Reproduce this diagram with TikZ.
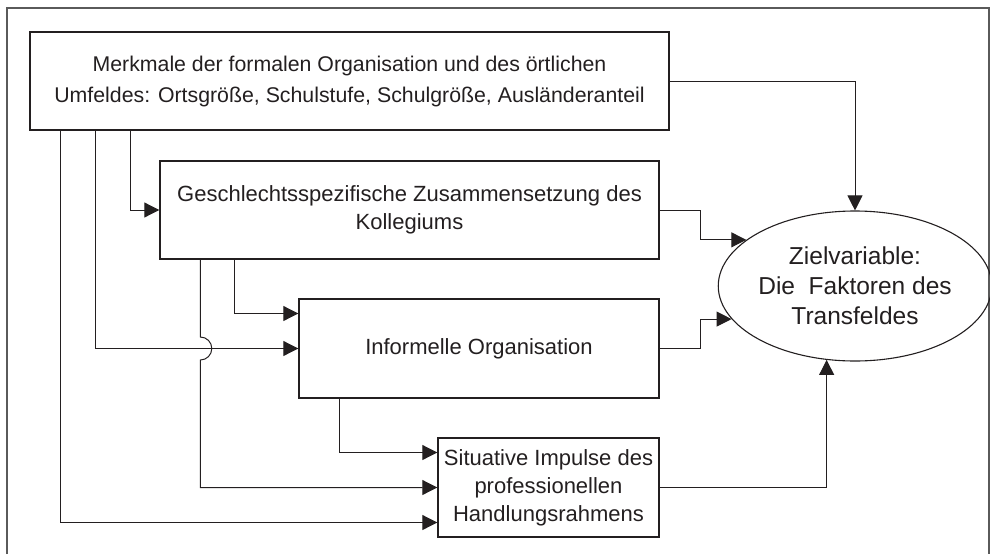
\documentclass[tikz,border=0pt]{standalone}
\usepackage{fontspec}
\setmainfont{Liberation Sans}
\usetikzlibrary{calc,positioning,arrows.meta,shapes.geometric}
\definecolor{ink}{HTML}{231F20}
\definecolor{framegray}{HTML}{5A5A5A}

\begin{document}
\begin{tikzpicture}[x=1pt, y=-1pt,
  box/.style={draw=ink, line width=1.4pt, inner sep=0pt, align=center, text=ink,
    font=\fontsize{22}{28}\selectfont},
  conn/.style={draw=ink, line width=1pt, -{Triangle[length=15pt,width=15pt]}}]
\useasboundingbox (0,0) rectangle (990,554);
\draw[framegray, line width=1.6pt] (7,554) -- (7,8) -- (989,8) -- (989,554);

\node[box, minimum width=639pt, minimum height=98pt, font=\fontsize{21.3}{31}\selectfont] (formal) at (349.5,81)
  {Merkmale der formalen Organisation und des örtlichen\\Umfeldes: Ortsgröße, Schulstufe, Schulgröße, Ausländeranteil};
\node[box, minimum width=499pt, minimum height=98pt] (geschl) at (409.5,210)
  {Geschlechtsspezifische Zusammensetzung des\\Kollegiums};
\node[box, minimum width=360pt, minimum height=99pt] (informell) at (479,348.5)
  {Informelle Organisation};
\node[box, minimum width=221pt, minimum height=99pt] (impulse) at (548.5,487.5)
  {Situative Impulse des\\professionellen\\Handlungsrahmens};
\node[draw=ink, ellipse, line width=1.1pt, inner sep=0pt, align=center, text=ink,
  minimum width=226pt, minimum height=150pt, font=\fontsize{24.5}{30}\selectfont] (ziel) at (855,286)
  {Zielvariable:\\Die\ \ Faktoren des\\Transfeldes};

% into the target
\draw[conn] (formal.east) -| (ziel.north);
\draw[conn] (geschl.east) -- ++(41,0) |- (ziel.157);
\draw[conn] (informell.east) -- ++(41,0) |- (ziel.195);
\draw[conn] (impulse.east) -| (ziel.249);

% down the left side
\draw[conn] ([xshift=31pt]formal.south west) |- ([yshift=-35pt]impulse.west);
\draw[conn] ([xshift=66pt]formal.south west) |- (informell.west);
\draw[conn] ([xshift=101pt]formal.south west) |- (geschl.west);
\coordinate (g1) at ([xshift=41pt]geschl.south west);
\draw[conn] (g1) -- ($(g1 |- informell.west)+(0,-11.5)$)
  arc[start angle=90, end angle=-90, radius=11.5pt] |- (impulse.west);
\draw[conn] ([xshift=75pt]geschl.south west) |- ([yshift=35pt]informell.west);
\draw[conn] ([xshift=41pt]informell.south west) |- ([yshift=35pt]impulse.west);
\end{tikzpicture}
\end{document}
